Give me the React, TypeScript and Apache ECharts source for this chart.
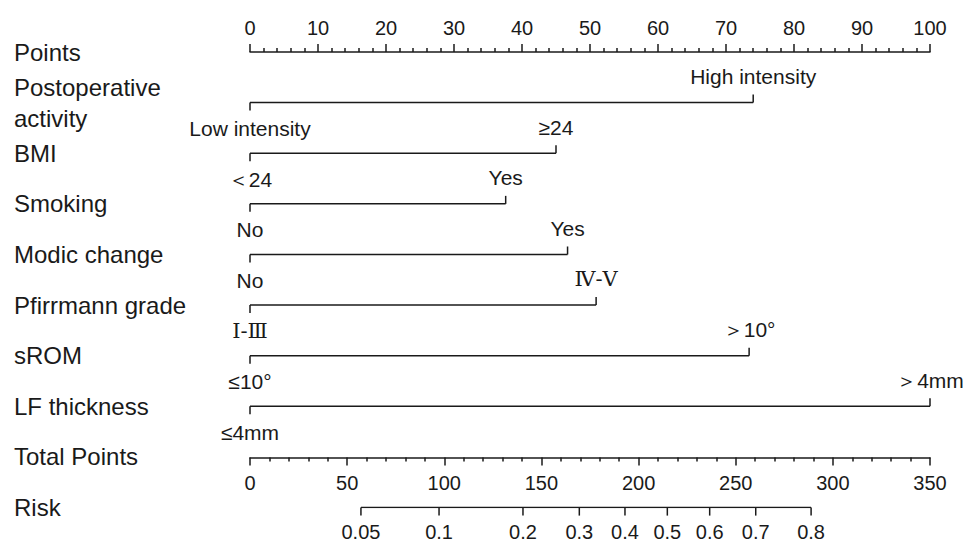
import React, { useEffect, useRef } from "react";
import * as echarts from "echarts";

// ---------- data ----------
const rowNames = [
  "Points",
  "Postoperative\nactivity",
  "BMI",
  "Smoking",
  "Modic change",
  "Pfirrmann grade",
  "sROM",
  "LF thickness",
  "Total Points",
  "Risk",
];

const predictorRows = [
  "Postoperative\nactivity",
  "BMI",
  "Smoking",
  "Modic change",
  "Pfirrmann grade",
  "sROM",
  "LF thickness",
];
const predictorPoints = [74, 45, 37.6, 46.7, 50.9, 73.4, 100];
const lowLabels = ["Low intensity", "＜24", "No", "No", "Ⅰ-Ⅲ", "≤10°", "≤4mm"];
const highLabels = ["High intensity", "≥24", "Yes", "Yes", "Ⅳ-Ⅴ", "＞10°", "＞4mm"];

const pointsMin = 0;
const pointsMax = 100;
const pointsInterval = 10;

const totalMin = 0;
const totalMax = 350;
const totalInterval = 50;

const riskLabels = ["0.05", "0.1", "0.2", "0.3", "0.4", "0.5", "0.6", "0.7", "0.8"];
const riskTotalPoints = [57.1, 97.3, 140.5, 169.5, 193.0, 214.8, 236.6, 260.3, 288.8];

// ---------- style ----------
const INK = "#1a1a1a";
const FONT = "'Liberation Sans', Arial, Helvetica, sans-serif";
const SERIF = "'DejaVu Serif', 'Liberation Serif', serif";
const LW = 1.5;

export default function App() {
  const ref = useRef<HTMLDivElement>(null);

  useEffect(() => {
    if (!ref.current) return;
    const chart = echarts.init(ref.current, null, { renderer: "svg" });

    const riskRow = rowNames.indexOf("Risk");

    const option: any = {
      animation: false,
      backgroundColor: "#ffffff",
      grid: [
        { left: 250, right: 36, top: 52, height: 455.6 },
        { left: 250, right: 36, top: 400, height: 57.4 },
      ],
      xAxis: [
        {
          gridIndex: 0,
          type: "value",
          position: "top",
          min: pointsMin,
          max: pointsMax,
          interval: pointsInterval,
          axisLine: { show: true, lineStyle: { color: INK, width: LW } },
          axisTick: { show: true, length: 8, lineStyle: { color: INK, width: LW } },
          minorTick: { show: true, splitNumber: 5, length: 4, lineStyle: { color: INK, width: LW } },
          splitLine: { show: false },
          axisLabel: { color: INK, fontSize: 20, fontFamily: FONT, margin: 14 },
        },
        {
          gridIndex: 0,
          type: "value",
          min: totalMin,
          max: totalMax,
          show: false,
        },
        {
          gridIndex: 1,
          type: "value",
          position: "bottom",
          min: totalMin,
          max: totalMax,
          interval: totalInterval,
          axisLine: { show: true, lineStyle: { color: INK, width: LW } },
          axisTick: { show: true, length: 8, lineStyle: { color: INK, width: LW } },
          minorTick: { show: true, splitNumber: 5, length: 4, lineStyle: { color: INK, width: LW } },
          splitLine: { show: false },
          axisLabel: { color: INK, fontSize: 20, fontFamily: FONT, margin: 16 },
        },
      ],
      yAxis: [
        {
          gridIndex: 0,
          type: "category",
          data: rowNames,
          inverse: true,
          boundaryGap: false,
          axisLine: { show: false },
          axisTick: { show: false },
          splitLine: { show: false },
          axisLabel: {
            show: true,
            interval: 0,
            align: "left",
            margin: 236,
            color: INK,
            fontSize: 24,
            lineHeight: 31,
            fontFamily: FONT,
          },
        },
        { gridIndex: 1, type: "value", show: false, min: 0, max: 1 },
      ],
      series: [
        {
          type: "custom",
          xAxisIndex: 0,
          yAxisIndex: 0,
          encode: { x: 0, y: 1 },
          data: predictorPoints.map((v, i) => [v, rowNames.indexOf(predictorRows[i])]),
          renderItem: (params: any, api: any) => {
            const i = params.dataIndex;
            const v = api.value(0);
            const r = api.value(1);
            const a = api.coord([0, r]);
            const b = api.coord([v, r]);
            const ls = { stroke: INK, lineWidth: LW };
            const isRoman = /[Ⅰ-Ⅻ]/.test(lowLabels[i]);
            const fam = isRoman ? SERIF : FONT;
            return {
              type: "group",
              children: [
                { type: "line", shape: { x1: a[0], y1: a[1], x2: b[0], y2: b[1] }, style: ls },
                { type: "line", shape: { x1: a[0], y1: a[1], x2: a[0], y2: a[1] + 8 }, style: ls },
                { type: "line", shape: { x1: b[0], y1: b[1], x2: b[0], y2: b[1] - 8 }, style: ls },
                {
                  type: "text",
                  x: a[0],
                  y: a[1] + 26,
                  style: {
                    text: lowLabels[i],
                    fill: INK,
                    fontSize: 21,
                    fontFamily: fam,
                    align: "center",
                    verticalAlign: "middle",
                  },
                },
                {
                  type: "text",
                  x: b[0],
                  y: b[1] - 26,
                  style: {
                    text: highLabels[i],
                    fill: INK,
                    fontSize: 21,
                    fontFamily: fam,
                    align: "center",
                    verticalAlign: "middle",
                  },
                },
              ],
            };
          },
        },
        {
          type: "line",
          xAxisIndex: 1,
          yAxisIndex: 0,
          symbol: "none",
          lineStyle: { color: INK, width: LW },
          data: [
            [riskTotalPoints[0], riskRow],
            [riskTotalPoints[riskTotalPoints.length - 1], riskRow],
          ],
        },
        {
          type: "custom",
          xAxisIndex: 1,
          yAxisIndex: 0,
          encode: { x: 0, y: 1 },
          data: riskTotalPoints.map((t) => [t, riskRow]),
          renderItem: (params: any, api: any) => {
            const i = params.dataIndex;
            const p = api.coord([api.value(0), api.value(1)]);
            return {
              type: "group",
              children: [
                {
                  type: "line",
                  shape: { x1: p[0], y1: p[1], x2: p[0], y2: p[1] + 8 },
                  style: { stroke: INK, lineWidth: LW },
                },
                {
                  type: "text",
                  x: p[0],
                  y: p[1] + 24,
                  style: {
                    text: riskLabels[i],
                    fill: INK,
                    fontSize: 20,
                    fontFamily: FONT,
                    align: "center",
                    verticalAlign: "middle",
                  },
                },
              ],
            };
          },
        },
      ],
    };

    chart.setOption(option);
    return () => chart.dispose();
  }, []);

  return (
    <div
      ref={ref}
      style={{ position: "fixed", left: 0, top: 0, width: 966, height: 544, background: "#fff" }}
    />
  );
}
